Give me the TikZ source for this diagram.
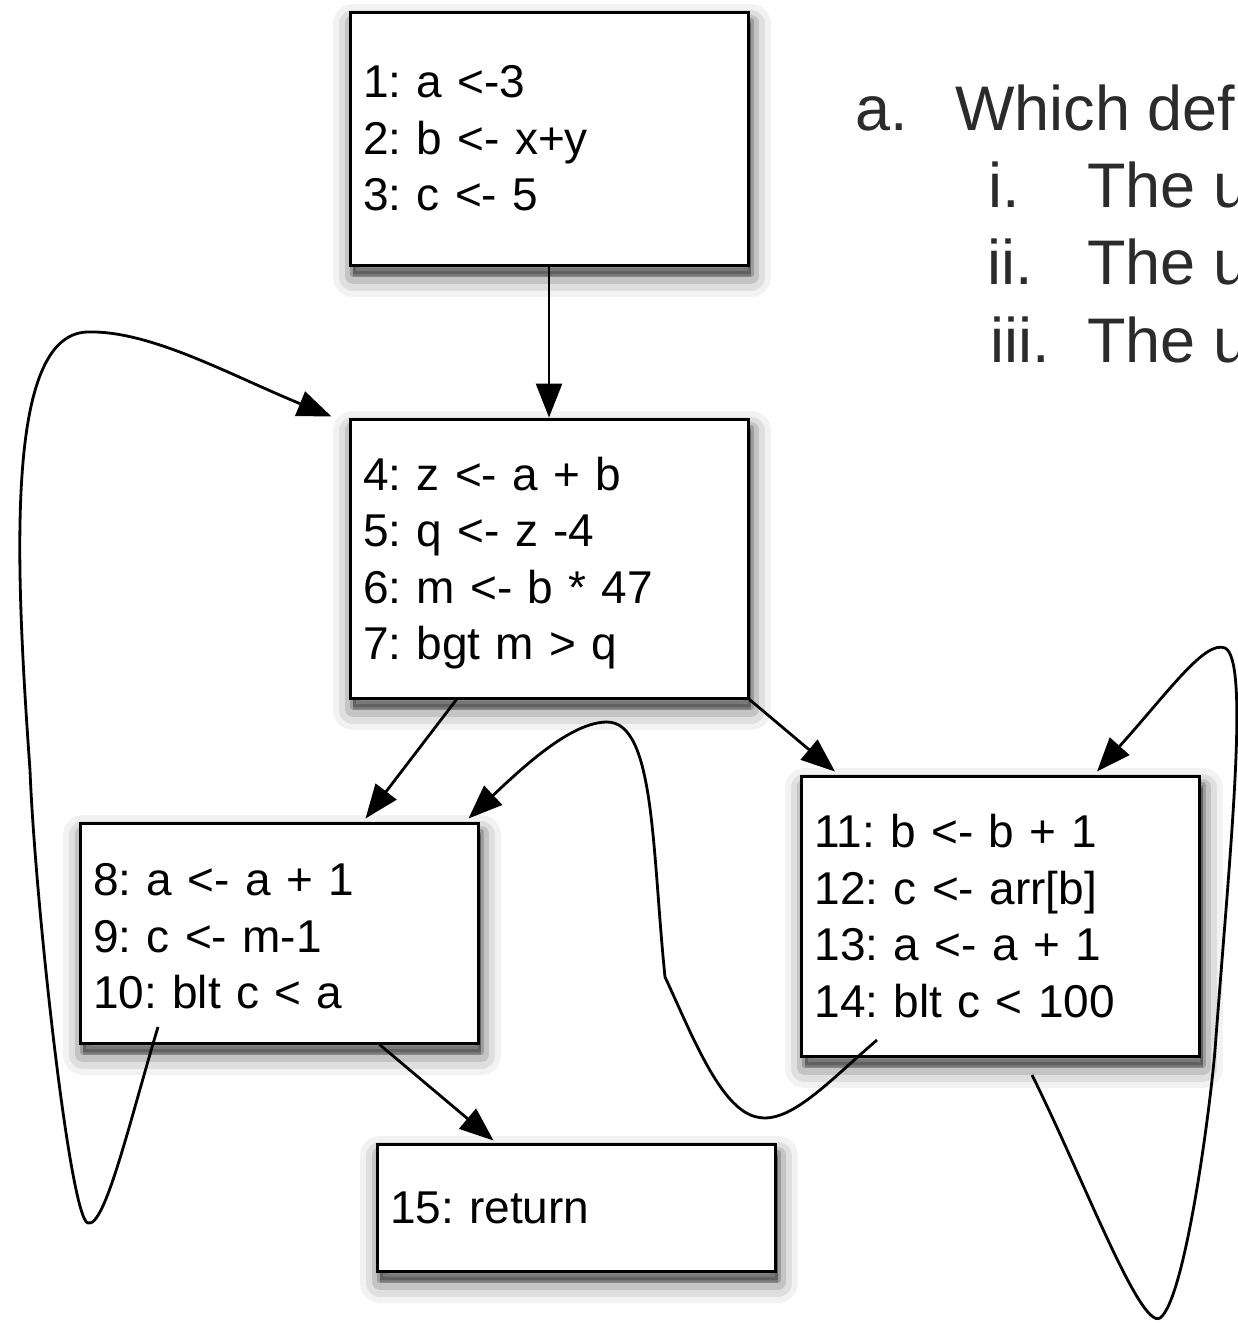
\documentclass[tikz,border=0pt]{standalone}
\usepackage{fontspec}
\setmainfont{Liberation Sans}
\usetikzlibrary{arrows.meta,calc}
\definecolor{qtext}{HTML}{2B2B2B}
\frenchspacing
\begin{document}
\begin{tikzpicture}[x=1pt,y=-1pt,
  shadowlayer/.style n args={3}{preaction={draw=black,fill=black,line width=#1,opacity=#2,line join=round,transform canvas={xshift=3pt,yshift=#3}}},
  block/.style={rectangle, draw=black, line width=3pt, fill=white,
    inner xsep=13pt, inner ysep=0pt, text width=372pt, align=left,
    minimum height=#1,
    font=\fontsize{46}{56.5}\selectfont,
    shadowlayer={40pt}{0.05}{-12pt},
    shadowlayer={28pt}{0.08}{-12pt},
    shadowlayer={16pt}{0.12}{-11pt},
    shadowlayer={6pt}{0.2}{-9pt}},
  conn/.style={line width=2.8pt, -{Triangle[length=34pt,width=26pt]}},
  question/.style={anchor=base west, inner sep=0pt, text=qtext, font=\fontsize{63}{75}\selectfont}
]
\useasboundingbox (0,0) rectangle (1238,1323);
\clip (0,0) rectangle (1238,1323);

% blocks
\node[block=253pt] (B1) at (549,138.5) {1: a <-3\\2: b <- x+y\\3: c <- 5};
\node[block=279pt] (B2) at (549,558.5) {4: z <- a + b\\5: q <- z -4\\6: m <- b * 47\\\raisebox{0pt}[\height][0pt]{7: bgt m > q}};
\node[block=220pt] (B3) at (279,933) {\rule{0pt}{39pt}8: a <- a + 1\\9: c <- m-1\\10: blt c < a};
\node[block=280pt] (B4) at (1000.5,916) {11: b <- b + 1\\12: c <- arr[b]\\13: a <- a + 1\\14: blt c < 100};
\node[block=127pt] (B5) at (576,1207.5) {15: return};

% question text
\node[question] (qa) at (855,130) {a.};
\node[question] (qaw) at (955,130) {Which def};
\node[question] (qi) at (988,207) {i.};
\node[question] (qit) at (1087,207) {The u};
\node[question] (qii) at (987,284) {ii.};
\node[question] (qiit) at (1087,284) {The u};
\node[question] (qiii) at (990,362) {iii.};
\node[question] (qiiit) at (1087,362) {The u};

% straight edges
\draw[conn] (B1.south) -- (B2.north);
\draw[conn] ($(B2.south west)+(108,0)$) -- ($(B3.north west)+(287,-3)$);
\draw[conn] (B2.south east) -- ($(B4.north west)+(35,-3)$);
\draw[conn] ($(B3.south east)+(-100,0)$) -- ($(B5.north west)+(118,-2)$);

% loops
\coordinate (c10) at (158,1027);
\draw[conn] (c10) .. controls (130,1120) and (105,1228) .. (88,1223)
  .. controls (70,1220) and (35,900) .. (30,770)
  .. controls (15,560) and (5,335) .. (87,332)
  .. controls (150,330) and (230,375) .. ($(B2.north west)+(-17,-1)$);

\coordinate (c14) at (877,1040);
\draw[conn] (c14) .. controls (830,1080) and (790,1125) .. (757,1117)
  .. controls (720,1110) and (690,1030) .. (665,977)
  .. controls (652,850) and (655,722) .. (607,722)
  .. controls (570,722) and (520,770) .. ($(B3.north east)+(-11,-3)$);

\coordinate (c14b) at (1032,1075);
\draw[conn] (c14b) .. controls (1082,1175) and (1140,1330) .. (1160,1318)
  .. controls (1185,1300) and (1210,1110) .. (1215,1050)
  .. controls (1230,850) and (1250,660) .. (1225,648)
  .. controls (1205,640) and (1170,690) .. ($(B4.north east)+(-104,-3)$);
\end{tikzpicture}
\end{document}
